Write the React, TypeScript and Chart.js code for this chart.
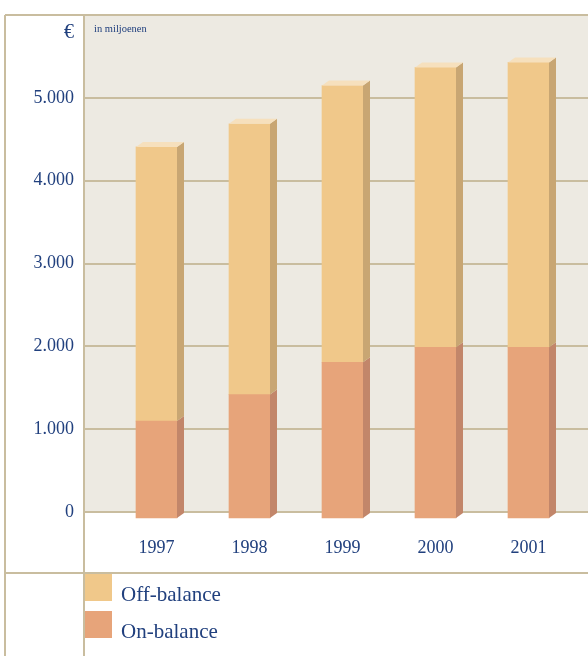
import { useEffect, useRef } from 'react';
import { Chart, registerables } from 'chart.js';

Chart.register(...registerables);

// ---- data ----
const years = ['1997', '1998', '1999', '2000', '2001'];
const onBalance = [1170, 1490, 1880, 2060, 2060];
const offBalance = [3310, 3270, 3340, 3380, 3440];
const yTickValues = [0, 1000, 2000, 3000, 4000, 5000];
const seriesLabels = ['On-balance', 'Off-balance'];
const unitSymbol = '€';
const unitNote = 'in miljoenen';

// ---- style ----
const W = 588;
const H = 656;
const FONT = "'Liberation Serif', 'DejaVu Serif', serif";
const TEXT = '#21407E';
const BG = '#EDEAE2';
const LINE = '#C9BD9F';
const FRONT = ['#E7A47A', '#F0C88A'];
const SIDE = ['#C2866A', '#C8A673'];
const TOPFACE = '#F6E0BD';
const PLOT_LEFT = 84;
const FRAME_LEFT = 5;
const SEPARATOR_Y = 573;
const DX = 7;
const DY = 5;
const DROP = 6;

const fmt = (v: number) => String(v).replace(/\B(?=(\d{3})+(?!\d))/g, '.');

const framePlugin = {
  id: 'frame',
  beforeDraw(chart: any) {
    const { ctx } = chart;
    const ys = chart.scales.y;
    const top = Math.round(ys.getPixelForValue(ys.max));
    const zero = Math.round(ys.getPixelForValue(0));
    ctx.save();
    ctx.fillStyle = '#ffffff';
    ctx.fillRect(0, 0, chart.width, chart.height);
    ctx.fillStyle = BG;
    ctx.fillRect(PLOT_LEFT, top, chart.width - PLOT_LEFT, zero - top);
    ctx.strokeStyle = LINE;
    ctx.lineWidth = 2;
    const line = (x1: number, y1: number, x2: number, y2: number) => {
      ctx.beginPath();
      ctx.moveTo(x1, y1);
      ctx.lineTo(x2, y2);
      ctx.stroke();
    };
    yTickValues.forEach((v) => {
      const p = Math.round(ys.getPixelForValue(v));
      line(PLOT_LEFT, p, chart.width, p);
    });
    line(FRAME_LEFT, top, chart.width, top);
    line(FRAME_LEFT, top, FRAME_LEFT, chart.height);
    line(PLOT_LEFT, top, PLOT_LEFT, chart.height);
    line(FRAME_LEFT, SEPARATOR_Y, chart.width, SEPARATOR_Y);

    // unit texts
    ctx.fillStyle = TEXT;
    ctx.textBaseline = 'middle';
    ctx.textAlign = 'right';
    ctx.font = `20px ${FONT}`;
    ctx.fillText(unitSymbol, 74, top + 18);
    ctx.textAlign = 'left';
    ctx.font = `10.5px ${FONT}`;
    ctx.fillText(unitNote, 94, top + 14);
    ctx.restore();
  },
};

const depthPlugin = {
  id: 'depth3d',
  beforeDatasetsDraw(chart: any) {
    chart.ctx.save();
    chart.ctx.translate(0, DROP);
  },
  afterDatasetsDraw(chart: any) {
    const { ctx } = chart;
    const last = chart.data.datasets.length - 1;
    chart.data.datasets.forEach((_ds: any, di: number) => {
      const meta = chart.getDatasetMeta(di);
      meta.data.forEach((bar: any) => {
        const { x, y, base, width } = bar.getProps(['x', 'y', 'base', 'width'], true);
        const l = x - width / 2;
        const r = x + width / 2;
        ctx.fillStyle = SIDE[di];
        ctx.beginPath();
        ctx.moveTo(r, y);
        ctx.lineTo(r + DX, y - DY);
        ctx.lineTo(r + DX, base - DY);
        ctx.lineTo(r, base);
        ctx.closePath();
        ctx.fill();
        if (di === last) {
          ctx.fillStyle = TOPFACE;
          ctx.beginPath();
          ctx.moveTo(l, y);
          ctx.lineTo(l + DX, y - DY);
          ctx.lineTo(r + DX, y - DY);
          ctx.lineTo(r, y);
          ctx.closePath();
          ctx.fill();
        }
      });
    });
    ctx.restore();
  },
};

const legendPlugin = {
  id: 'customLegend',
  afterDraw(chart: any) {
    const { ctx } = chart;
    const items = chart.data.datasets
      .map((ds: any, i: number) => ({ label: ds.label, color: FRONT[i] }))
      .reverse();
    ctx.save();
    items.forEach((it: any, i: number) => {
      const top = 574 + i * 37;
      ctx.fillStyle = it.color;
      ctx.fillRect(85, top, 27, 27);
      ctx.fillStyle = TEXT;
      ctx.font = `21px ${FONT}`;
      ctx.textAlign = 'left';
      ctx.textBaseline = 'alphabetic';
      ctx.fillText(it.label, 121, top + 27);
    });
    ctx.restore();
  },
};

export default function App() {
  const ref = useRef<HTMLCanvasElement | null>(null);

  useEffect(() => {
    if (!ref.current) return;
    const chart = new Chart(ref.current, {
      type: 'bar',
      data: {
        labels: years,
        datasets: [
          {
            label: seriesLabels[0],
            data: onBalance,
            backgroundColor: FRONT[0],
            borderWidth: 0,
            barThickness: 41,
            clip: false as any,
          },
          {
            label: seriesLabels[1],
            data: offBalance,
            backgroundColor: FRONT[1],
            borderWidth: 0,
            barThickness: 41,
            clip: false as any,
          },
        ],
      },
      options: {
        animation: false,
        responsive: false,
        devicePixelRatio: 1,
        layout: { padding: { top: 15, right: 13, bottom: 0, left: 0 } },
        plugins: {
          legend: { display: false },
          tooltip: { enabled: false },
        },
        scales: {
          x: {
            stacked: true,
            grid: { display: false, drawTicks: false },
            border: { display: false },
            ticks: {
              color: TEXT,
              font: { family: FONT, size: 18 },
              padding: 25,
            },
            afterFit: (s: any) => {
              s.height = 144;
              s.paddingLeft = 0;
              s.paddingRight = 0;
            },
          },
          y: {
            stacked: true,
            min: 0,
            max: 6000,
            grid: { display: false, drawTicks: false },
            border: { display: false },
            ticks: {
              stepSize: 1000,
              color: TEXT,
              font: { family: FONT, size: 18 },
              padding: 36,
              callback: (v: any) => (yTickValues.includes(Number(v)) ? fmt(Number(v)) : ''),
            },
            afterFit: (s: any) => {
              s.width = 110;
              s.paddingTop = 0;
              s.paddingBottom = 0;
            },
          },
        },
      },
      plugins: [framePlugin, depthPlugin, legendPlugin],
    });
    return () => chart.destroy();
  }, []);

  return (
    <div style={{ position: 'absolute', left: 0, top: 0, width: W, height: H }}>
      <canvas ref={ref} width={W} height={H} style={{ width: W, height: H, display: 'block' }} />
    </div>
  );
}
